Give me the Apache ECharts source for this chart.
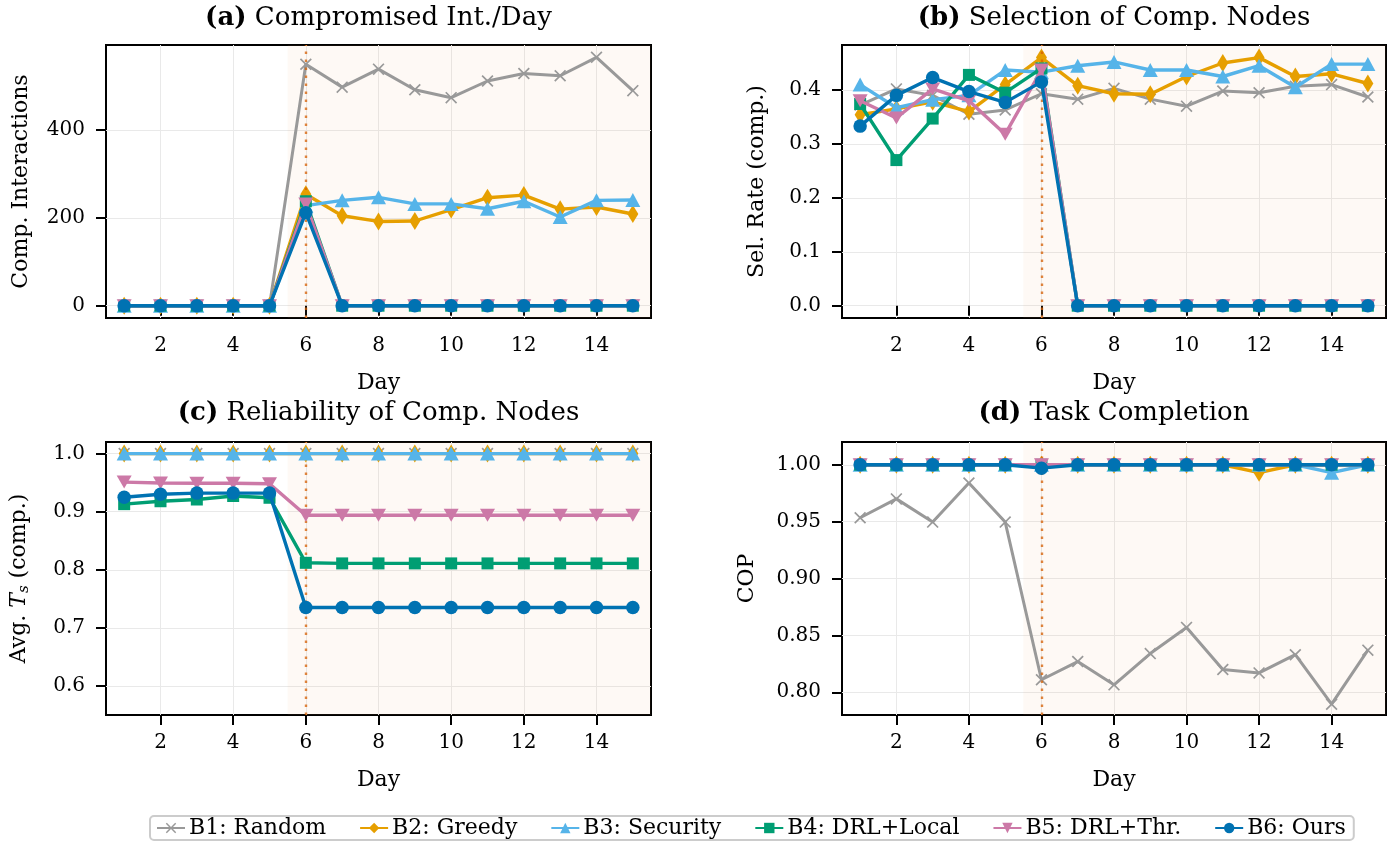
<!DOCTYPE html>
<html>
<head>
<meta charset="utf-8">
<script src="https://cdn.jsdelivr.net/npm/echarts@6/dist/echarts.min.js"></script>
<style>html,body{margin:0;padding:0;background:#fff;}#c{width:1400px;height:845px;}</style>
</head>
<body>
<div id="c"></div>
<script>
// ---------- data ----------
const days = [1,2,3,4,5,6,7,8,9,10,11,12,13,14,15];
const seriesNames = ['B1: Random','B2: Greedy','B3: Security','B4: DRL+Local','B5: DRL+Thr.','B6: Ours'];

// (a) Compromised interactions per day
const aB1 = [0,0,0,0,0,550,498,539,492,474,512,529,524,566,490];
const aB2 = [0,0,0,0,0,254,205,192,193,219,246,252,220,225,209];
const aB3 = [0,0,0,0,0,228,240,247,232,232,221,238,202,240,241];
const aB4 = [0,0,0,0,0,238,0,0,0,0,0,0,0,0,0];
const aB5 = [0,0,0,0,0,232,0,0,0,0,0,0,0,0,0];
const aB6 = [0,0,0,0,0,212,0,0,0,0,0,0,0,0,0];

// (b) Selection rate of compromised nodes
const bB1 = [0.372,0.402,0.390,0.355,0.363,0.393,0.383,0.403,0.383,0.370,0.398,0.395,0.407,0.410,0.387];
const bB2 = [0.354,0.365,0.378,0.360,0.410,0.460,0.408,0.393,0.392,0.425,0.450,0.460,0.425,0.430,0.412];
const bB3 = [0.410,0.367,0.382,0.390,0.437,0.433,0.445,0.452,0.437,0.437,0.425,0.445,0.405,0.448,0.448];
const bB4 = [0.374,0.270,0.347,0.428,0.395,0.440,0,0,0,0,0,0,0,0,0];
const bB5 = [0.380,0.348,0.402,0.380,0.318,0.437,0,0,0,0,0,0,0,0,0];
const bB6 = [0.333,0.390,0.423,0.397,0.377,0.415,0,0,0,0,0,0,0,0,0];

// (c) Avg. T_s of compromised nodes
const cB1 = [1,1,1,1,1,1,1,1,1,1,1,1,1,1,1];
const cB2 = [1,1,1,1,1,1,1,1,1,1,1,1,1,1,1];
const cB3 = [1,1,1,1,1,1,1,1,1,1,1,1,1,1,1];
const cB4 = [0.913,0.918,0.921,0.927,0.924,0.812,0.811,0.811,0.811,0.811,0.811,0.811,0.811,0.811,0.811];
const cB5 = [0.951,0.9495,0.949,0.949,0.948,0.894,0.894,0.894,0.894,0.894,0.894,0.894,0.894,0.894,0.894];
const cB6 = [0.925,0.930,0.932,0.932,0.932,0.735,0.735,0.735,0.735,0.735,0.735,0.735,0.735,0.735,0.735];

// (d) Task completion (COP)
const dB1 = [0.9534,0.970,0.9496,0.984,0.9496,0.811,0.827,0.8065,0.834,0.857,0.820,0.817,0.833,0.7895,0.837];
const dB2 = [1,1,1,1,1,1,1,1,1,1,1,0.993,1,1,1];
const dB3 = [1,1,1,1,1,1,1,1,1,1,1,1,1,0.993,1];
const dB4 = [1,1,1,1,1,1,1,1,1,1,1,1,1,1,1];
const dB5 = [1,1,1,1,1,1,1,1,1,1,1,1,1,1,1];
const dB6 = [1,1,1,1,1,0.997,1,1,1,1,1,1,1,1,1];

// tick labels
const xTicks = [2,4,6,8,10,12,14];
const aTicks = [0,200,400];
const bTicks = [0,0.1,0.2,0.3,0.4];
const cTicks = [0.6,0.7,0.8,0.9,1.0];
const dTicks = [0.80,0.85,0.90,0.95,1.00];

const titles = [['(a)','Compromised Int./Day'],['(b)','Selection of Comp. Nodes'],['(c)','Reliability of Comp. Nodes'],['(d)','Task Completion']];
const attackDay = 6;
const attackStart = 5.5;

// ---------- styling ----------
const FONT = 'DejaVu Serif';
const colors = ['#999999','#E69F00','#56B4E9','#009E73','#CC79A7','#0072B2'];
const CROSS = 'path://M-1,-0.8 L-0.8,-1 L0,-0.2 L0.8,-1 L1,-0.8 L0.2,0 L1,0.8 L0.8,1 L0,0.2 L-0.8,1 L-1,0.8 L-0.2,0 Z';
const THIN_DIAMOND = 'path://M0,-1 L0.6,0 L0,1 L-0.6,0 Z';
const symbols = [
  {symbol: CROSS, symbolSize: 12, symbolRotate: 0},
  {symbol: THIN_DIAMOND, symbolSize: [11,18], symbolRotate: 0},
  {symbol: 'triangle', symbolSize: [15,14], symbolRotate: 0},
  {symbol: 'rect', symbolSize: 12, symbolRotate: 0},
  {symbol: 'triangle', symbolSize: [15,13], symbolRotate: 180},
  {symbol: 'circle', symbolSize: 13.5, symbolRotate: 0}
];
const lineWidths = [3,3.4,3.4,3.4,3.4,3.4];

const grids = [
  {left:106, top:45, width:545, height:273},
  {left:842, top:45, width:544, height:273},
  {left:106, top:442, width:545, height:273},
  {left:842, top:442, width:544, height:273}
];
const yRanges = [[-28,594],[-0.0228,0.4834],[0.55,1.02],[0.78,1.02]];
const yTickSets = [aTicks,bTicks,cTicks,dTicks];
const yFmt = [v=>String(Math.round(v)), v=>v.toFixed(1), v=>v.toFixed(1), v=>v.toFixed(2)];
const yNames = ['Comp. Interactions','Sel. Rate (comp.)','Avg. {it|T}{sub|s} (comp.)','COP'];
const yNameGaps = [74,74,74,84];
const panelData = [
  [aB1,aB2,aB3,aB4,aB5,aB6],
  [bB1,bB2,bB3,bB4,bB5,bB6],
  [cB1,cB2,cB3,cB4,cB5,cB6],
  [dB1,dB2,dB3,dB4,dB5,dB6]
];

const tickStyle = {color:'#000', width:2};
const xAxes = grids.map((g,i)=>({
  type:'value', gridIndex:i, min:0.5, max:15.5,
  axisLine:{show:false},
  axisTick:{show:true, customValues:xTicks, length:10, lineStyle:tickStyle},
  axisLabel:{customValues:xTicks, margin:18, color:'#000', fontFamily:FONT, fontSize:20},
  splitLine:{show:true, lineStyle:{color:'#e9e9e9', width:1}},
  name:'Day', nameLocation:'middle', nameGap:54,
  nameTextStyle:{color:'#000', fontFamily:FONT, fontSize:22}
}));
const yAxes = grids.map((g,i)=>({
  type:'value', gridIndex:i, min:yRanges[i][0], max:yRanges[i][1],
  axisLine:{show:false},
  axisTick:{show:true, customValues:yTickSets[i], length:10, lineStyle:tickStyle},
  axisLabel:{customValues:yTickSets[i], margin:21, color:'#000', fontFamily:FONT, fontSize:20, formatter:yFmt[i]},
  splitLine:{show:true, lineStyle:{color:'#e9e9e9', width:1}},
  name:yNames[i], nameLocation:'middle', nameGap:yNameGaps[i], nameRotate:90,
  nameTextStyle:{color:'#000', fontFamily:FONT, fontSize:22,
    rich:{
      it:{fontFamily:FONT, fontSize:22, fontStyle:'italic', color:'#000'},
      sub:{fontFamily:FONT, fontSize:15, fontStyle:'italic', color:'#000', verticalAlign:'bottom', padding:[10,0,0,0]}
    }}
}));

const series = [];
panelData.forEach((arrs,gi)=>{
  arrs.forEach((arr,si)=>{
    const s = {
      type:'line', name:seriesNames[si], xAxisIndex:gi, yAxisIndex:gi,
      data: days.map((d,k)=>[d, arr[k]]),
      symbol: symbols[si].symbol, symbolSize: symbols[si].symbolSize, symbolRotate: symbols[si].symbolRotate,
      showAllSymbol:true,
      lineStyle:{color:colors[si], width:lineWidths[si]},
      itemStyle:{color:colors[si], borderWidth:0},
      z: 3+si, animation:false, emphasis:{disabled:true}
    };
    if (si===0) {
      s.markArea = {silent:true, itemStyle:{color:'rgba(235,170,120,0.07)'},
        data:[[{xAxis:attackStart},{xAxis:15.5}]]};
      s.markLine = {silent:true, symbol:'none', label:{show:false},
        lineStyle:{color:'#D55E00', opacity:0.75, width:2.4, type:[2.5,5.5]},
        data:[{xAxis:attackDay}]};
    }
    series.push(s);
  });
});

const graphics = grids.map((g,i)=>({
  type:'text', x: g.left + g.width/2, y: i<2 ? 18 : 413,
  style:{
    text:'{b|'+titles[i][0]+'} '+titles[i][1],
    align:'center', verticalAlign:'middle',
    fontFamily:FONT, fontSize:26, fill:'#000',
    rich:{b:{fontFamily:FONT, fontSize:26, fontWeight:'bold', fill:'#000'}}
  }
}));

const chart = echarts.init(document.getElementById('c'), null, {renderer:'canvas'});
chart.setOption({
  animation:false,
  backgroundColor:'#fff',
  grid: grids.map(g=>Object.assign({show:true, borderColor:'#000', borderWidth:2, backgroundColor:'transparent'}, g)),
  xAxis: xAxes,
  yAxis: yAxes,
  series: series,
  graphic: graphics,
  legend:{
    data: seriesNames, left:150, top:816,
    itemWidth:28, itemHeight:13, itemGap:33,
    padding:[1,8,1,6],
    borderColor:'#cccccc', borderWidth:2, borderRadius:4,
    textStyle:{fontFamily:FONT, fontSize:22, color:'#000', padding:[0,0,0,-1]}
  }
});
</script>
</body>
</html>
